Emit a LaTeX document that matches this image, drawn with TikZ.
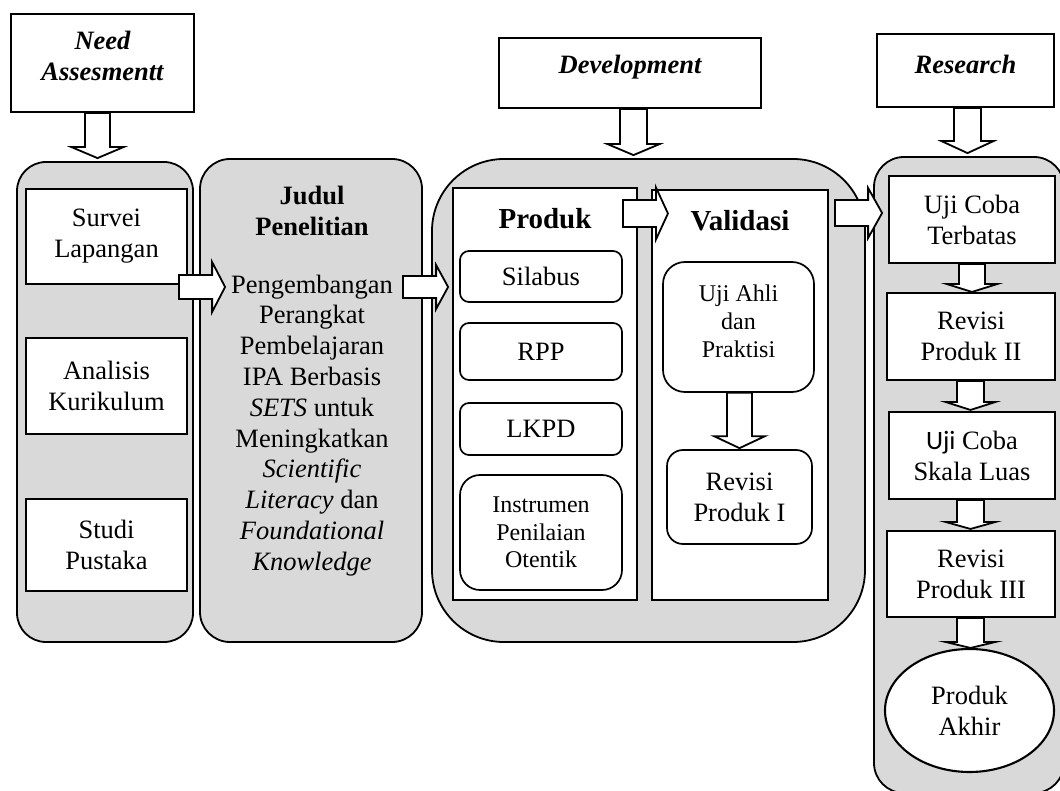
\documentclass[tikz,border=0pt]{standalone}
\usepackage{fontspec}
\setmainfont{Liberation Serif}
\newfontfamily\calibfont{Carlito}
\usetikzlibrary{calc,shapes.geometric}
\definecolor{boxgray}{RGB}{217,217,217}

\newcommand{\vblock}[5]{%
  \draw[barrow] let \p1=(#1), \p2=(#2) in
  (\x2-#3pt,\y1) -- (\x2+#3pt,\y1) -- (\x2+#3pt,\y2+#5pt) -- (\x2+#4pt,\y2+#5pt)
  -- (\x2,\y2) -- (\x2-#4pt,\y2+#5pt) -- (\x2-#3pt,\y2+#5pt) -- cycle;}
\newcommand{\hblock}[5]{%
  \draw[barrow] let \p1=(#1), \p2=(#2) in
  (\x1,\y2+#3pt) -- (\x2-#5pt,\y2+#3pt) -- (\x2-#5pt,\y2+#4pt) -- (\x2,\y2)
  -- (\x2-#5pt,\y2-#4pt) -- (\x2-#5pt,\y2-#3pt) -- (\x1,\y2-#3pt) -- cycle;}

\tikzset{
  graybox/.style={draw, line width=1.8pt, fill=boxgray, rounded corners=#1, inner sep=0pt},
  whitebox/.style={draw, line width=2.1pt, fill=white, inner sep=0pt, align=center,
    font=\fontsize{26.5}{31}\selectfont},
  rbox/.style={draw, line width=1.7pt, fill=white, rounded corners=#1, inner sep=0pt,
    align=center, font=\fontsize{26.5}{31}\selectfont},
  barrow/.style={draw, line width=1.8pt, fill=white, line join=miter},
  txt/.style={align=center, inner sep=0pt, font=\fontsize{26.5}{31}\selectfont},
  smalltxt/.style={align=center, inner sep=0pt, font=\fontsize{24}{28}\selectfont},
  bigtitle/.style={inner sep=0pt, font=\fontsize{29}{33}\selectfont\bfseries},
}

\begin{document}
\begin{tikzpicture}[x=1pt,y=-1pt]
\useasboundingbox (0,0) rectangle (1060,791);
\clip (0,0) rectangle (1060,791);

% ---------- gray containers ----------
\node[graybox=29pt, minimum width=176pt, minimum height=480pt] (leftg) at (105,402) {};
\node[graybox=30pt, minimum width=222pt, minimum height=483pt] (judul) at (311,400.5) {};
\node[graybox=72pt, minimum width=433pt, minimum height=483pt] (devg) at (648.5,400.5) {};
\node[graybox=30pt, minimum width=190pt, minimum height=636pt] (resg) at (969,475) {};

% ---------- header boxes ----------
\node[whitebox, minimum width=183pt, minimum height=98pt] (need) at (102.5,63) {};
\node[txt] (needt) at (102.5,56) {\bfseries\itshape Need\\\bfseries\itshape Assesmentt};
\node[whitebox, minimum width=262pt, minimum height=70pt] (dev) at (630,73) {};
\node[txt] (devt) at (630,67) {\bfseries\itshape Development};
\node[whitebox, minimum width=177pt, minimum height=73pt] (res) at (965.5,70.5) {};
\node[txt] (rest) at (965.5,64) {\bfseries\itshape Research};

% ---------- need assessment column ----------
\node[whitebox, minimum width=161pt, minimum height=95pt] (survei) at (106.5,236.5) {Survei\\Lapangan};
\node[whitebox, minimum width=161pt, minimum height=96pt] (analisis) at (106.5,386) {Analisis\\Kurikulum};
\node[whitebox, minimum width=161pt, minimum height=92pt] (studi) at (106.5,545) {Studi\\Pustaka};

% ---------- judul ----------
\node[txt, font=\fontsize{26.5}{30.8}\selectfont] (judult) at (312,381)
  {\textbf{Judul}\\\textbf{Penelitian}\\[27pt]Pengembangan\\Perangkat\\Pembelajaran\\IPA Berbasis\\\textit{SETS} untuk\\Meningkatkan\\\textit{Scientific}\\\textit{Literacy} dan\\\textit{Foundational}\\\textit{Knowledge}};

% ---------- development ----------
\node[whitebox, minimum width=184pt, minimum height=412pt] (produk) at (545,394) {};
\node[bigtitle] (produkt) at (545,219) {Produk};
\node[whitebox, minimum width=176pt, minimum height=410pt] (validasi) at (740,395) {};
\node[bigtitle] (validasit) at (740,221) {Validasi};

\node[rbox=9pt, minimum width=162pt, minimum height=51pt] (silabus) at (541,276.5) {Silabus};
\node[rbox=9pt, minimum width=162pt, minimum height=57pt] (rpp) at (541,351.5) {RPP};
\node[rbox=9pt, minimum width=162pt, minimum height=52pt] (lkpd) at (541,429) {LKPD};
\node[rbox=20pt, minimum width=162pt, minimum height=115pt, font=\fontsize{24}{27.5}\selectfont] (instrumen) at (541,532.5) {Instrumen\\Penilaian\\Otentik};

\node[rbox=22pt, minimum width=151pt, minimum height=130pt] (ujiahli) at (738.5,327) {};
\node[smalltxt] (ujiahlit) at (738.5,321) {Uji Ahli\\dan\\Praktisi};
\node[rbox=16pt, minimum width=145pt, minimum height=94pt] (rev1) at (739.5,497) {Revisi\\Produk I};

% ---------- research ----------
\node[whitebox, minimum width=166pt, minimum height=87pt] (terbatas) at (972,219.5) {Uji Coba\\Terbatas};
\node[whitebox, minimum width=168pt, minimum height=87pt] (rev2) at (971,336.5) {Revisi\\Produk II};
\node[whitebox, minimum width=166pt, minimum height=87pt] (skala) at (972,455.5) {{\calibfont Uji} Coba\\Skala Luas};
\node[whitebox, minimum width=168pt, minimum height=86pt] (rev3) at (971,574) {Revisi\\Produk III};
\node[whitebox, ellipse, minimum width=169pt, minimum height=123pt] (akhir) at (969.5,710.5) {Produk\\Akhir};

% ---------- block arrows ----------
\vblock{need.south}{$(leftg.north)+(-7.5,-3)$}{12.5}{26}{11}
\vblock{dev.south}{$(devg.north)+(-15,-3)$}{13.5}{26}{11}
\vblock{res.south}{$(resg.north)+(-1.5,-3)$}{13.5}{26}{12}
\vblock{ujiahli.south}{$(rev1.north)+(0,-1)$}{12.5}{25.5}{12}
\vblock{terbatas.south}{$(rev2.north)+(1,0)$}{13}{25.5}{8}
\vblock{rev2.south}{$(skala.north)+(-1.5,-1)$}{13.5}{25}{8}
\vblock{skala.south}{$(rev3.north)+(-0.5,-1)$}{13.5}{25}{7}
\vblock{rev3.south}{$(akhir.north)+(1,0)$}{13.5}{25}{6}

\hblock{$(survei.east)+(-9,0)$}{$(judul.west)+(26,-113.5)$}{12}{25}{13}
\hblock{$(judul.east)+(-20,0)$}{$(devg.west)+(17,-113.5)$}{11}{22}{12}
\hblock{$(produk.east)+(-15,0)$}{$(validasi.west)+(17,-181.5)$}{13.5}{26}{12}
\hblock{$(validasi.east)+(6,0)$}{$(resg.west)+(9,-262)$}{13}{25}{14}
\end{tikzpicture}
\end{document}
